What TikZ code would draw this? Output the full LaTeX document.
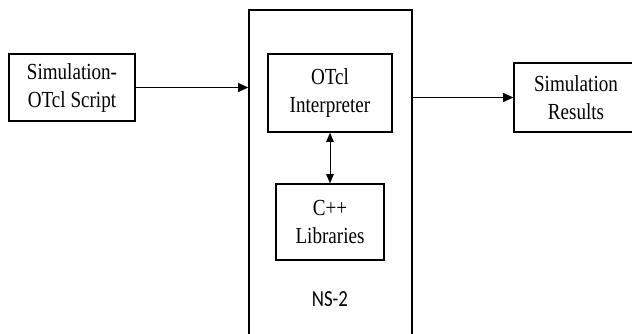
\documentclass[tikz,border=0pt]{standalone}
\usepackage{fontspec}
\setmainfont{Liberation Serif}[FakeStretch=0.83]
\newfontfamily\nsfont{Carlito}[FakeStretch=0.82]
\usetikzlibrary{arrows.meta}
\begin{document}
\begin{tikzpicture}[x=1pt,y=-1pt,
  box/.style={draw=black, line width=1.6pt, inner sep=0pt, align=center,
    font=\fontsize{23}{28}\selectfont},
  conn/.style={line width=0.9pt, -{Triangle[length=10pt,width=9pt]}},
  dconn/.style={line width=0.9pt, {Triangle[length=9pt,width=7.5pt]}-{Triangle[length=9pt,width=7.5pt]}}]
\useasboundingbox (0,0) rectangle (632,333);
\clip (0,0) rectangle (632,333);
\node[box, minimum width=126pt, minimum height=67pt] (script) at (72,87.5) {Simulation-\\OTcl Script};
\node[box, minimum width=163pt, minimum height=335pt] (ns) at (330.5,177.5) {};
\node[box, minimum width=124pt, minimum height=78pt] (otcl) at (330,93) {OTcl\\Interpreter};
\node[box, minimum width=108pt, minimum height=76pt] (cpp) at (330,222) {C++\\Libraries};
\node[box, minimum width=124pt, minimum height=69pt] (res) at (576,97.5) {Simulation\\Results};
\node[inner sep=0pt, font=\nsfont\fontsize{23}{28}\selectfont] (nslabel) at (330,299) {NS-2};
\draw[conn] (script.east) -- (script.east -| ns.west);
\draw[conn] (res.west -| ns.east) -- (res.west);
\draw[dconn] (otcl.south) -- (cpp.north);
\end{tikzpicture}
\end{document}
